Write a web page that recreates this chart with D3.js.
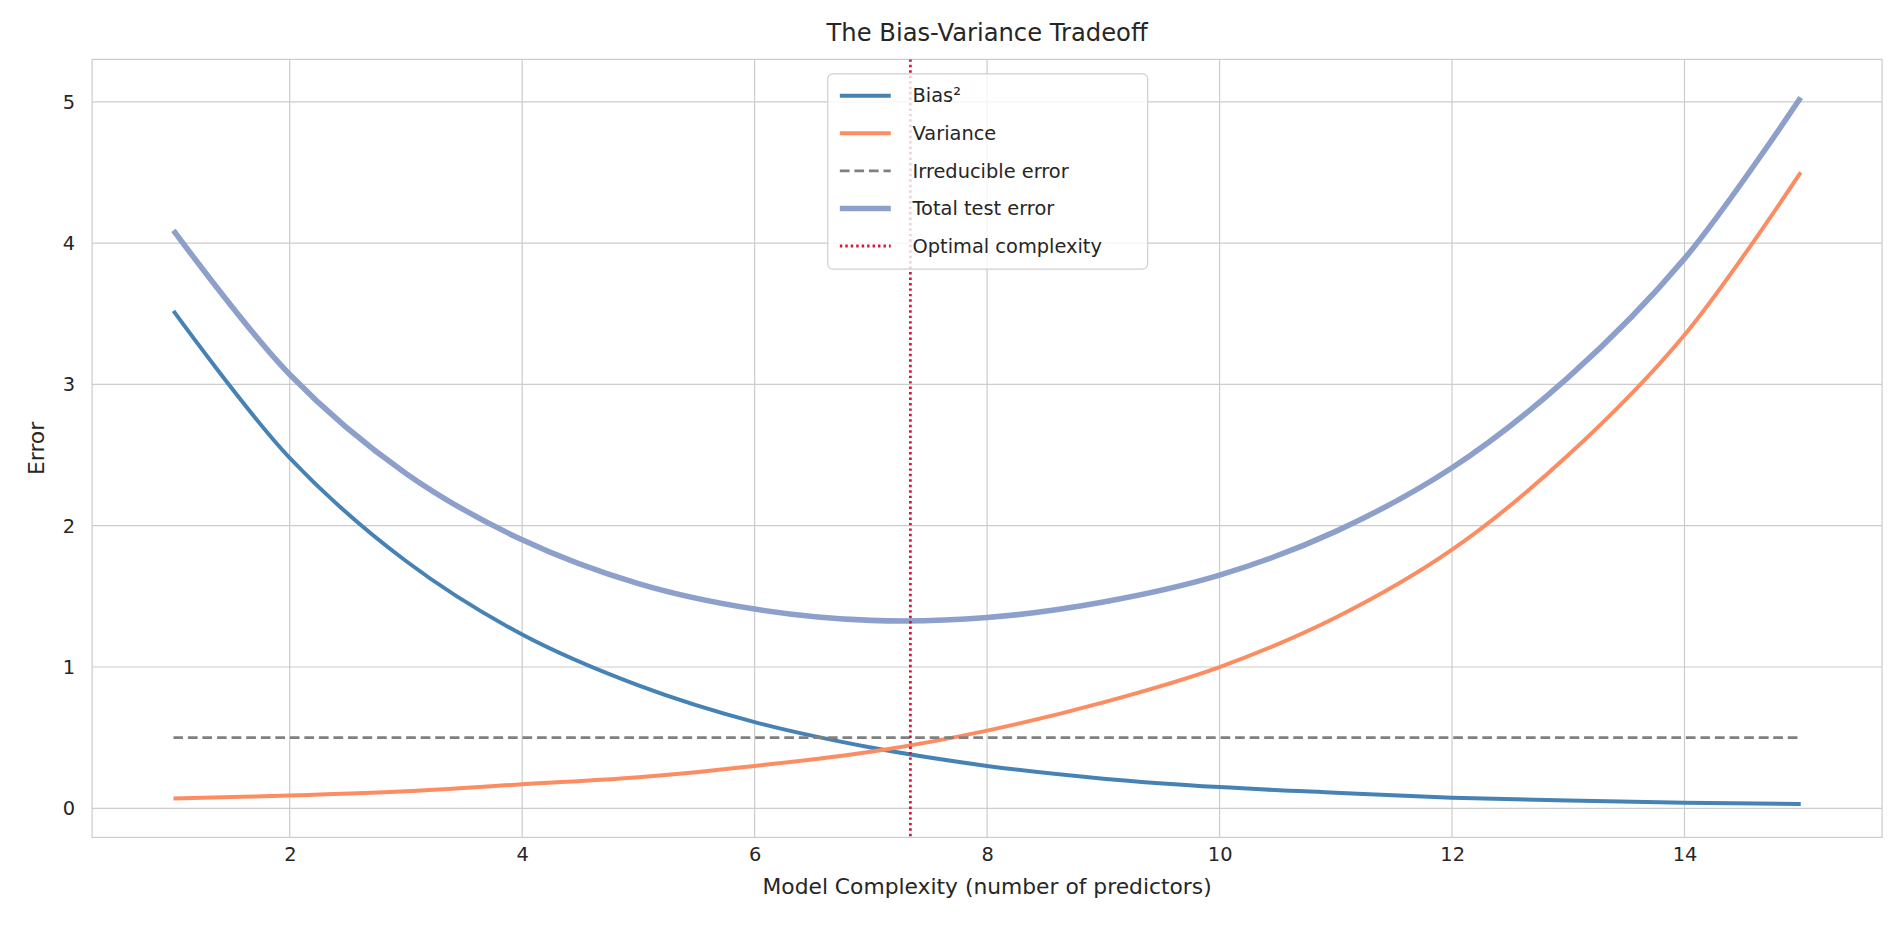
<!DOCTYPE html>
<html><head><meta charset="utf-8">
<script src="https://cdn.jsdelivr.net/npm/d3@7"></script>
<style>body{margin:0;background:#fff;font-family:"DejaVu Sans",sans-serif}</style>
</head><body><svg id="c" width="1899" height="941"></svg>
<script>
const complexity=[1,2,3,4,5,6,7,8,9,10,11,12,13,14,15];
const bias=[3.52,2.48,1.75,1.23,0.87,0.61,0.43,0.30,0.21,0.15,0.11,0.075,0.055,0.04,0.03];
const variance=[0.07,0.09,0.12,0.17,0.22,0.30,0.40,0.55,0.75,1.0,1.35,1.83,2.5,3.35,4.5];
const irreducible=[0.5,0.5,0.5,0.5,0.5,0.5,0.5,0.5,0.5,0.5,0.5,0.5,0.5,0.5,0.5];
const total=[4.09,3.07,2.37,1.90,1.59,1.41,1.33,1.35,1.46,1.65,1.96,2.41,3.05,3.89,5.03];
const optimal=7.34;
const xTicks=[2,4,6,8,10,12,14], yTicks=[0,1,2,3,4,5];

const svg=d3.select("#c").append("g").attr("transform","scale(1.2119)");
const L=76,R=1553,T=49,B=691;
const x=d3.scaleLinear().domain([0.30,15.70]).range([L,R]);
const y=d3.scaleLinear().domain([-0.206,5.30]).range([B,T]);
const g=svg.append("g");
g.selectAll(".gx").data(xTicks).join("line").attr("x1",d=>x(d)).attr("x2",d=>x(d)).attr("y1",T).attr("y2",B).attr("stroke","#cccccc").attr("stroke-width",1);
g.selectAll(".gy").data(yTicks).join("line").attr("y1",d=>y(d)).attr("y2",d=>y(d)).attr("x1",L).attr("x2",R).attr("stroke","#cccccc").attr("stroke-width",1);
g.append("rect").attr("x",L).attr("y",T).attr("width",R-L).attr("height",B-T).attr("fill","none").attr("stroke","#cccccc").attr("stroke-width",1);
const xa=svg.append("g").attr("transform",`translate(0,${B})`).call(d3.axisBottom(x).tickValues(xTicks).tickFormat(d3.format("d")).tickSize(0).tickPadding(8));
const ya=svg.append("g").attr("transform",`translate(${L},0)`).call(d3.axisLeft(y).tickValues(yTicks).tickFormat(d3.format("d")).tickSize(0).tickPadding(14));
[xa,ya].forEach(a=>{a.select(".domain").remove();a.selectAll("text").attr("font-size",16).attr("fill","#262626").attr("font-family","DejaVu Sans");});
const line=d3.line().x((d,i)=>x(complexity[i])).y(d=>y(d)).curve(d3.curveCatmullRom.alpha(0.5));
const series=[
 {v:bias,c:"#4682b4",w:3.3,name:"Bias²"},
 {v:variance,c:"#fc8d62",w:3.3,name:"Variance"},
 {v:irreducible,c:"#808080",w:2.4,dash:"8,4",name:"Irreducible error"},
 {v:total,c:"#8da0cb",w:4.6,name:"Total test error"}];
series.forEach(s=>svg.append("path").attr("d",line(s.v)).attr("fill","none").attr("stroke",s.c).attr("stroke-width",s.w).attr("stroke-dasharray",s.dash||null));
svg.append("line").attr("x1",x(optimal)).attr("x2",x(optimal)).attr("y1",T).attr("y2",B).attr("stroke","#dc143c").attr("stroke-width",2.3).attr("stroke-dasharray","2,2.5");
svg.append("text").attr("x",(L+R)/2).attr("y",34).attr("text-anchor","middle").attr("font-size",20).attr("fill","#262626").text("The Bias-Variance Tradeoff");
svg.append("text").attr("x",(L+R)/2).attr("y",738).attr("text-anchor","middle").attr("font-size",18).attr("fill","#262626").text("Model Complexity (number of predictors)");
svg.append("text").attr("transform",`translate(36,${(T+B)/2}) rotate(-90)`).attr("text-anchor","middle").attr("font-size",18).attr("fill","#262626").text("Error");
const lg=svg.append("g").attr("transform","translate(683,61)");
lg.append("rect").attr("width",264).attr("height",161).attr("rx",4).attr("fill","rgba(255,255,255,0.8)").attr("stroke","#d0d0d0");
const items=series.concat([{c:"#dc143c",w:2.3,dash:"2,2.5",name:"Optimal complexity"}]);
items.forEach((s,i)=>{const yy=18+i*31;
 lg.append("line").attr("x1",10).attr("x2",52).attr("y1",yy).attr("y2",yy).attr("stroke",s.c).attr("stroke-width",s.w).attr("stroke-dasharray",s.dash||null);
 lg.append("text").attr("x",70).attr("y",yy+5.5).attr("font-size",16).attr("fill","#262626").text(s.name);});
</script></body></html>
